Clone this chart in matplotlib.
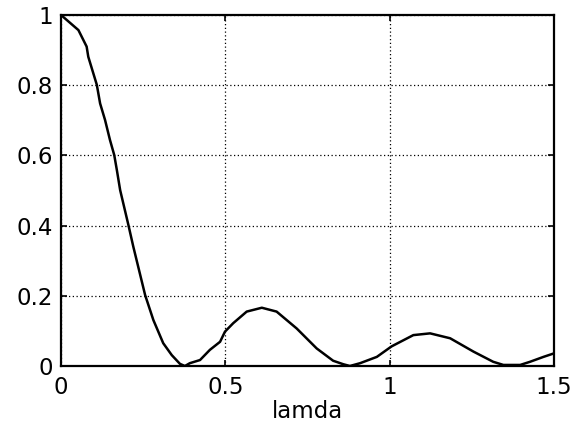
import matplotlib
matplotlib.use("Agg")
import matplotlib.pyplot as plt

lamda = [0.0, 0.053, 0.078, 0.083, 0.109, 0.119, 0.134, 0.149, 0.162, 0.170, 0.180,
         0.205, 0.220, 0.256, 0.281, 0.311, 0.337, 0.362, 0.377, 0.392, 0.423, 0.453,
         0.484, 0.499, 0.524, 0.565, 0.611, 0.656, 0.717, 0.778, 0.828, 0.859, 0.879,
         0.910, 0.961, 1.006, 1.072, 1.123, 1.184, 1.255, 1.315, 1.346, 1.397, 1.427,
         1.468, 1.5]
response = [1.0, 0.957, 0.910, 0.881, 0.801, 0.748, 0.701, 0.644, 0.601, 0.558, 0.501,
            0.402, 0.340, 0.202, 0.131, 0.065, 0.031, 0.006, 0.0, 0.008, 0.017, 0.046,
            0.069, 0.098, 0.122, 0.155, 0.166, 0.155, 0.107, 0.050, 0.015, 0.005, 0.0,
            0.008, 0.026, 0.056, 0.088, 0.093, 0.079, 0.041, 0.012, 0.003, 0.003, 0.012,
            0.026, 0.036]
xticks = [0, 0.5, 1, 1.5]
xticklabels = ["0", "0.5", "1", "1.5"]
yticks = [0, 0.2, 0.4, 0.6, 0.8, 1]
yticklabels = ["0", "0.2", "0.4", "0.6", "0.8", "1"]

plt.rcParams['font.family'] = ['DejaVu Sans']

fig = plt.figure(figsize=(5.73, 4.3), dpi=100)
ax = fig.add_axes([61/573, (430-366)/430, (554-61)/573, (366-15)/430])
ax.plot(lamda, response, color='black', lw=1.8)
ax.set_xlim(0, 1.5)
ax.set_ylim(0, 1)
ax.set_xticks(xticks)
ax.set_xticklabels(xticklabels)
ax.set_yticks(yticks)
ax.set_yticklabels(yticklabels)
ax.grid(True, color='black', linestyle=(0, (1, 2)), linewidth=0.9)
for s in ax.spines.values():
    s.set_linewidth(1.6)
    s.set_color('black')
ax.tick_params(direction='in', length=4, width=1.2, top=True, right=True,
               labelsize=16.5, colors='black')
ax.tick_params(axis='x', pad=7)
ax.tick_params(axis='y', pad=6)
ax.set_xlabel('lamda', fontsize=16.5, labelpad=1)
fig.savefig('out.png', dpi=100)
